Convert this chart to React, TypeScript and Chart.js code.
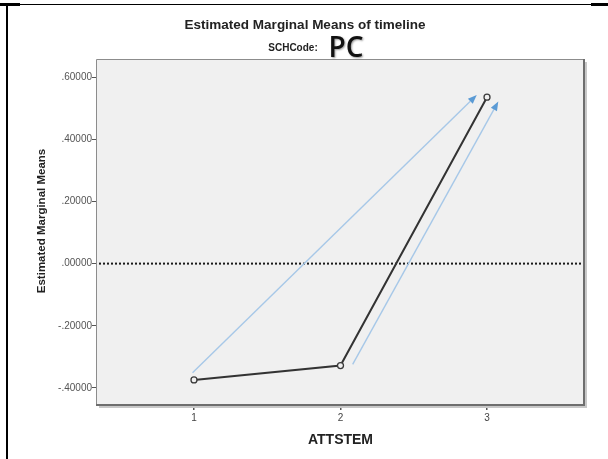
import React, { useEffect, useRef } from "react";
import { Chart, registerables } from "chart.js";

Chart.register(...registerables);

// ATTSTEM levels and estimated marginal means of timeline (SCHCode: PC)
const attstemLevels = [1, 2, 3];
const marginalMeans = [-0.374, -0.328, 0.535];

// axis ranges and tick values
const xRange = [0.338, 3.662];
const yRange = [-0.4547, 0.6547];
const xTickValues = [1, 2, 3];
const yTickValues = [-0.4, -0.2, 0, 0.2, 0.4, 0.6];

// hand-drawn trend arrows (data coordinates: [ATTSTEM, mean])
const arrowTails = [
  [0.99, -0.351],
  [2.083, -0.324],
];
const arrowHeads = [
  [2.93, 0.542],
  [3.077, 0.521],
];

const FONT = "'Liberation Sans', Arial, sans-serif";

const fmtMean = (v: number) => {
  const s = Math.abs(v).toFixed(5).replace(/^0/, "");
  return (v < 0 ? "-" : "") + s;
};

const decorPlugin = {
  id: "emmDecor",
  beforeDraw(chart: any) {
    const { ctx, chartArea: a, width, height } = chart;
    ctx.save();
    ctx.fillStyle = "#ffffff";
    ctx.fillRect(0, 0, width, height);
    // page frame
    ctx.fillStyle = "#000";
    ctx.fillRect(0, 4, width, 1);
    ctx.fillRect(0, 3, 20, 3);
    ctx.fillRect(591, 3, width - 591, 3);
    ctx.fillRect(6, 4, 2, height - 4);
    // plot background
    ctx.fillStyle = "#f0f0f0";
    ctx.fillRect(a.left, a.top, a.right - a.left, a.bottom - a.top);
    ctx.restore();
  },
  beforeDatasetsDraw(chart: any) {
    const { ctx, chartArea: a, scales } = chart;
    const y0 = scales.y.getPixelForValue(0);
    ctx.save();
    ctx.strokeStyle = "#1a1a1a";
    ctx.lineWidth = 2;
    ctx.setLineDash([2, 2]);
    ctx.beginPath();
    ctx.moveTo(a.left + 2, y0);
    ctx.lineTo(a.right, y0);
    ctx.stroke();
    ctx.restore();

    // trend arrows
    ctx.save();
    for (let i = 0; i < arrowTails.length; i++) {
      const x1 = scales.x.getPixelForValue(arrowTails[i][0]);
      const y1 = scales.y.getPixelForValue(arrowTails[i][1]);
      const x2 = scales.x.getPixelForValue(arrowHeads[i][0]);
      const y2 = scales.y.getPixelForValue(arrowHeads[i][1]);
      const ang = Math.atan2(y2 - y1, x2 - x1);
      const headLen = 9;
      const headW = 3.5;
      const bx = x2 - headLen * Math.cos(ang);
      const by = y2 - headLen * Math.sin(ang);
      ctx.strokeStyle = "#a7c8e8";
      ctx.lineWidth = 1.4;
      ctx.beginPath();
      ctx.moveTo(x1, y1);
      ctx.lineTo(bx, by);
      ctx.stroke();
      ctx.fillStyle = "#5b9bd5";
      ctx.beginPath();
      ctx.moveTo(x2, y2);
      ctx.lineTo(bx + headW * Math.sin(ang), by - headW * Math.cos(ang));
      ctx.lineTo(bx - headW * Math.sin(ang), by + headW * Math.cos(ang));
      ctx.closePath();
      ctx.fill();
    }
    ctx.restore();
  },
  afterDraw(chart: any) {
    const { ctx, chartArea: a } = chart;
    ctx.save();
    // plot frame with a soft drop shadow on right and bottom
    ctx.fillStyle = "#c8c8c8";
    ctx.fillRect(a.right + 1, a.top + 2, 2, a.bottom - a.top + 1);
    ctx.fillRect(a.left + 2, a.bottom + 1, a.right - a.left + 1, 2);
    ctx.strokeStyle = "#8c8c8c";
    ctx.lineWidth = 1;
    ctx.beginPath();
    ctx.moveTo(a.left - 0.5, a.bottom);
    ctx.lineTo(a.left - 0.5, a.top - 0.5);
    ctx.lineTo(a.right, a.top - 0.5);
    ctx.stroke();
    ctx.strokeStyle = "#6e6e6e";
    ctx.lineWidth = 2;
    ctx.beginPath();
    ctx.moveTo(a.right, a.top - 1);
    ctx.lineTo(a.right, a.bottom);
    ctx.lineTo(a.left - 1, a.bottom);
    ctx.stroke();

    // titles
    ctx.fillStyle = "#222";
    ctx.textAlign = "center";
    ctx.textBaseline = "middle";
    ctx.font = `bold 13.5px ${FONT}`;
    ctx.fillText("Estimated Marginal Means of timeline", 305, 25);
    ctx.font = `bold 10px ${FONT}`;
    ctx.fillText("SCHCode:", 293, 48);
    ctx.save();
    ctx.shadowColor = "rgba(0,0,0,0.4)";
    ctx.shadowOffsetX = 1;
    ctx.shadowOffsetY = 1;
    ctx.shadowBlur = 2;
    ctx.fillStyle = "#111";
    ctx.font = `600 28px 'Open Sans', Lato, sans-serif`;
    ctx.fillText("PC", 346, 49);
    ctx.restore();

    // axis titles
    ctx.fillStyle = "#222";
    ctx.font = `bold 14px ${FONT}`;
    ctx.fillText("ATTSTEM", (a.left + a.right) / 2, 440);
    ctx.save();
    ctx.translate(42, 221);
    ctx.rotate(-Math.PI / 2);
    ctx.font = `bold 11.5px ${FONT}`;
    ctx.fillText("Estimated Marginal Means", 0, 0);
    ctx.restore();
    ctx.restore();
  },
};

export default function App() {
  const canvasRef = useRef<HTMLCanvasElement | null>(null);

  useEffect(() => {
    const canvas = canvasRef.current;
    if (!canvas) return;
    const chart = new Chart(canvas, {
      type: "line",
      data: {
        datasets: [
          {
            data: attstemLevels.map((x, i) => ({ x, y: marginalMeans[i] })),
            borderColor: "#333333",
            borderWidth: 2,
            pointRadius: 3,
            pointBorderWidth: 1.3,
            pointBorderColor: "#3a3a3a",
            pointBackgroundColor: "#f0f0f0",
            tension: 0,
          },
        ],
      },
      options: {
        responsive: false,
        animation: false,
        events: [],
        layout: { padding: { top: 60, right: 24, left: 0, bottom: 0 } },
        plugins: {
          legend: { display: false },
          title: { display: false },
          tooltip: { enabled: false },
        },
        scales: {
          x: {
            type: "linear",
            min: xRange[0],
            max: xRange[1],
            afterBuildTicks: (s: any) => {
              s.ticks = xTickValues.map((value) => ({ value }));
            },
            afterFit: (s: any) => {
              s.height = 54;
            },
            border: { display: false },
            grid: {
              drawOnChartArea: false,
              drawTicks: true,
              tickLength: 5,
              color: "#555",
              lineWidth: 1.5,
            },
            ticks: {
              padding: 2,
              color: "#444",
              font: { family: FONT, size: 10 },
              callback: (v: any) => String(v),
            },
          },
          y: {
            type: "linear",
            min: yRange[0],
            max: yRange[1],
            afterBuildTicks: (s: any) => {
              s.ticks = yTickValues.map((value) => ({ value }));
            },
            afterFit: (s: any) => {
              s.width = 97;
            },
            border: { display: false },
            grid: {
              drawOnChartArea: false,
              drawTicks: true,
              tickLength: 5,
              color: "#555",
              lineWidth: 1,
            },
            ticks: {
              padding: 0,
              color: "#555",
              font: { family: FONT, size: 10 },
              callback: (v: any) => fmtMean(Number(v)),
            },
          },
        },
      } as any,
      plugins: [decorPlugin],
    });
    return () => chart.destroy();
  }, []);

  return (
    <div style={{ position: "absolute", left: 0, top: 0, width: 608, height: 459 }}>
      <canvas ref={canvasRef} width={608} height={459} style={{ display: "block" }} />
    </div>
  );
}
